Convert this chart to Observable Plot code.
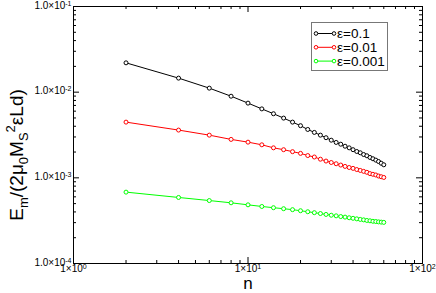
<!DOCTYPE html>
<html><head><meta charset="utf-8">
<script src="https://cdn.jsdelivr.net/npm/d3@7"></script>
<script src="https://cdn.jsdelivr.net/npm/@observablehq/plot@0.6"></script>
<style>body{margin:0;background:#fff} svg{display:block}</style>
</head><body><div id="chart"></div>
<script>
// ---- data ----
const nValues = [2,4,6,8,10,12,14,16,18,20,22,24,26,28,30,32,34,36,38,40,42,44,46,48,50,52,54,56,58,60];
const eps01 = [0.0220,0.01459,0.01114,0.00897,0.00745,0.00638,0.00560,0.00498,0.00447,0.00406,0.00367,0.00339,0.00315,0.00294,0.00275,0.00259,0.00247,0.00234,0.00224,0.00213,0.00203,0.00196,0.00187,0.00181,0.00173,0.00167,0.00161,0.00155,0.00148,0.00142];
const eps001 = [0.00447,0.00361,0.00315,0.00281,0.00261,0.00243,0.00224,0.00213,0.00202,0.00193,0.00182,0.00175,0.00165,0.00157,0.00151,0.00146,0.00141,0.00136,0.00132,0.00129,0.00125,0.00122,0.00119,0.00116,0.00112,0.00110,0.00108,0.00105,0.00103,0.00101];
const eps0001 = [0.000681,0.000590,0.000543,0.000511,0.000484,0.000463,0.000448,0.000436,0.000425,0.000413,0.000402,0.000392,0.000383,0.000374,0.000366,0.000360,0.000353,0.000348,0.000342,0.000337,0.000332,0.000327,0.000323,0.000318,0.000315,0.000311,0.000309,0.000306,0.000304,0.000302];
const seriesNames = ["ε=0.1","ε=0.01","ε=0.001"];
const seriesColors = ["#000000","#ff0000","#00ff00"];
const xMajor = [1,10,100];
const yMajor = [1e-4,1e-3,1e-2,1e-1];
const xMinor = [2,3,4,5,6,7,8,9,20,30,40,50,60,70,80,90];
const yMinor = [2e-4,3e-4,4e-4,5e-4,6e-4,7e-4,8e-4,9e-4,2e-3,3e-3,4e-3,5e-3,6e-3,7e-3,8e-3,9e-3,2e-2,3e-2,4e-2,5e-2,6e-2,7e-2,8e-2,9e-2];
const xLabel = "n";
const yLabelParts = [["E",""],["m","sub"],["/(2μ",""],["0","sub"],["M",""],["S","sub"],["2","sup"],["εLd)",""]];

const seriesValues = [eps01, eps001, eps0001];
const rows = seriesNames.flatMap((s,i) => nValues.map((n,j) => ({s, n, v: seriesValues[i][j]})));

// ---- layout ----
const W=436, H=293, mL=73, mR=14, mT=6, mB=30;
const iW = W-mL-mR, iH = H-mT-mB;
const font = "'Liberation Sans', Arial, Helvetica, sans-serif";
const exp10 = d => Math.round(Math.log10(d));

const svg = Plot.plot({
  width:W, height:H, marginLeft:mL, marginRight:mR, marginTop:mT, marginBottom:mB,
  style:{fontFamily:font, background:"#fff", overflow:"visible", color:"#000"},
  x:{type:"log", domain:[1,100]},
  y:{type:"log", domain:[1e-4,1e-1]},
  color:{domain:seriesNames, range:seriesColors},
  marks:[
    Plot.axisX(xMajor, {tickSize:0, tickPadding:1, fontSize:10, label:null, tickFormat:d=>`1×10|${exp10(d)}`}),
    Plot.axisY(yMajor, {tickSize:0, tickPadding:2, fontSize:10, label:null, lineAnchor:"bottom", dy:2, tickFormat:d=>`1.0×10|${exp10(d)}`}),
    Plot.tickX(xMajor, {x:d=>d, insetTop:iH-6, stroke:"#000"}),
    Plot.tickX(xMajor, {x:d=>d, insetBottom:iH-6, stroke:"#000"}),
    Plot.tickX(xMinor, {x:d=>d, insetTop:iH-3, stroke:"#000"}),
    Plot.tickX(xMinor, {x:d=>d, insetBottom:iH-3, stroke:"#000"}),
    Plot.tickY(yMajor, {y:d=>d, insetRight:iW-6, stroke:"#000"}),
    Plot.tickY(yMajor, {y:d=>d, insetLeft:iW-6, stroke:"#000"}),
    Plot.tickY(yMinor, {y:d=>d, insetRight:iW-3, stroke:"#000"}),
    Plot.tickY(yMinor, {y:d=>d, insetLeft:iW-3, stroke:"#000"}),
    Plot.line(rows, {x:"n", y:"v", z:"s", stroke:"s", strokeWidth:1}),
    Plot.dot(rows, {x:"n", y:"v", stroke:"s", fill:"white", r:2, strokeWidth:1}),
    Plot.frame({stroke:"#000", strokeWidth:1}),
    Plot.text([xLabel], {frameAnchor:"bottom", lineAnchor:"bottom", dy:25, fontSize:17, text:d=>d})
  ]
});

// superscripts in tick labels
d3.select(svg).selectAll("text").each(function(){
  const t = this.textContent;
  if (!t.includes("|")) return;
  const [base, ex] = t.split("|");
  const sel = d3.select(this);
  sel.text(null);
  sel.append("tspan").text(base);
  sel.append("tspan").attr("font-size", 7).attr("dy", -3).text(ex);
});

// y axis label
const yl = d3.select(svg).append("text")
  .attr("transform", `translate(23,${155}) rotate(-90)`)
  .attr("text-anchor","middle").attr("font-size",19).attr("font-family",font).attr("fill","#000");
let cur = 0;
for (const [txt, kind] of yLabelParts) {
  const target = kind==="sub" ? 5 : kind==="sup" ? -8 : 0;
  yl.append("tspan").attr("dy", target-cur).attr("font-size", kind ? 13 : 19).text(txt);
  cur = target;
}

// legend
const lg = d3.select(svg).append("g").attr("font-family",font).attr("text-anchor","start");
lg.append("rect").attr("x",311.5).attr("y",22.5).attr("width",76).attr("height",48)
  .attr("fill","white").attr("stroke","#777").attr("stroke-width",1);
seriesNames.forEach((name,i) => {
  const y = 33.5 + i*13.8;
  lg.append("line").attr("x1",316).attr("x2",334).attr("y1",y).attr("y2",y).attr("stroke",seriesColors[i]);
  [316,334].forEach(x => lg.append("circle").attr("cx",x).attr("cy",y).attr("r",1.8).attr("fill","white").attr("stroke",seriesColors[i]));
  lg.append("text").attr("x",337).attr("y",y).attr("dy","0.36em").attr("text-anchor","start").attr("font-size",13.5).attr("fill","#000").text(name);
});

document.getElementById("chart").appendChild(svg);
</script>
</body></html>
